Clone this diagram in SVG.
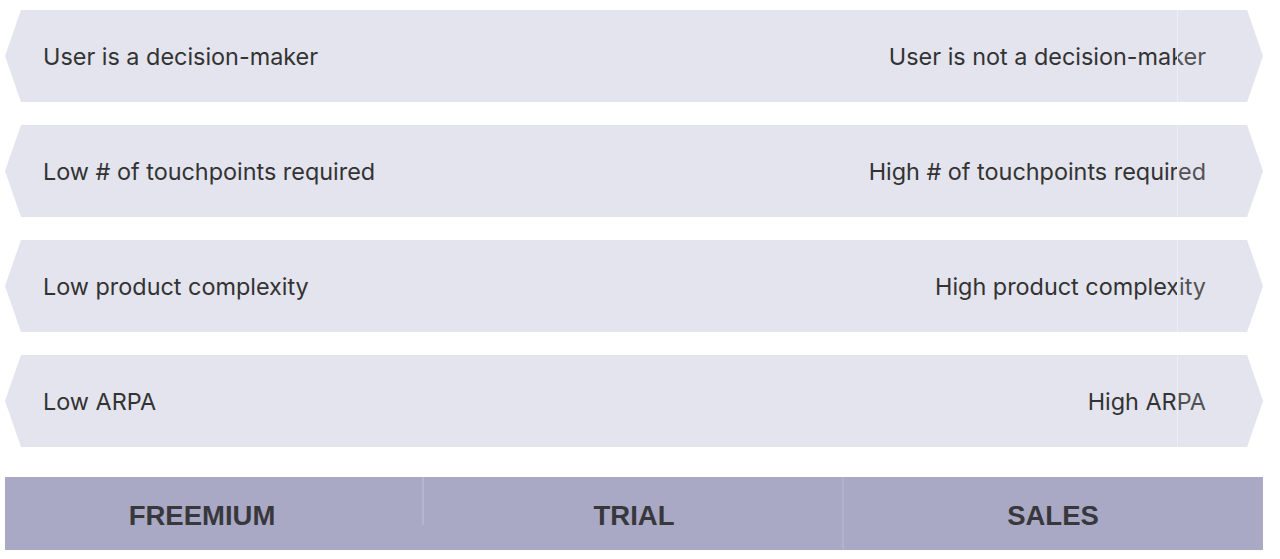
<svg xmlns="http://www.w3.org/2000/svg" width="1280" height="559" viewBox="0 0 1280 559">
<style>
.band{fill:#e4e4ee}
.cap{fill:#e4e4ee;fill-opacity:0.18}
.seam{stroke:#ededf5;stroke-width:1}
.t{font-family:Inter,"Noto Sans",sans-serif;font-size:23.4px;fill:#333}
.b{font-family:"Liberation Sans",Arial,sans-serif;font-weight:bold;font-size:27.5px;fill:#38383c;text-anchor:middle}
</style>
<rect width="1280" height="559" fill="#fff"/>
<defs>
<polygon id="arrow" points="21,0 1247,0 1263,46 1247,92 21,92 5,46"/>
<polygon id="capR" points="1177,0 1247,0 1263,46 1247,92 1177,92"/>
</defs>
<g id="row1">
<use href="#arrow" y="10" class="band"/>
<text class="t" x="43" y="65">User is a decision-maker</text>
<text class="t" x="1206" y="65" text-anchor="end">User is not a decision-maker</text>
<use href="#capR" y="10" class="cap"/>
<line class="seam" x1="1177.5" y1="10" x2="1177.5" y2="102"/>
</g>
<g id="row2">
<use href="#arrow" y="125" class="band"/>
<text class="t" x="43" y="180">Low # of touchpoints required</text>
<text class="t" x="1206" y="180" text-anchor="end">High # of touchpoints required</text>
<use href="#capR" y="125" class="cap"/>
<line class="seam" x1="1177.5" y1="125" x2="1177.5" y2="217"/>
</g>
<g id="row3">
<use href="#arrow" y="240" class="band"/>
<text class="t" x="43" y="295">Low product complexity</text>
<text class="t" x="1206" y="295" text-anchor="end">High product complexity</text>
<use href="#capR" y="240" class="cap"/>
<line class="seam" x1="1177.5" y1="240" x2="1177.5" y2="332"/>
</g>
<g id="row4">
<use href="#arrow" y="355" class="band"/>
<text class="t" x="43" y="410">Low ARPA</text>
<text class="t" x="1206" y="410" text-anchor="end">High ARPA</text>
<use href="#capR" y="355" class="cap"/>
<line class="seam" x1="1177.5" y1="355" x2="1177.5" y2="447"/>
</g>
<g id="footer">
<rect x="5" y="477" width="1258" height="73" fill="#a9a9c5"/>
<line x1="423" y1="477" x2="423" y2="525" stroke="#babad3" stroke-width="1.5"/>
<line x1="843" y1="477" x2="843" y2="550" stroke="#babad3" stroke-width="1"/>
<text class="b" x="202" y="525">FREEMIUM</text>
<text class="b" x="634" y="525">TRIAL</text>
<text class="b" x="1053" y="525">SALES</text>
</g>
</svg>
